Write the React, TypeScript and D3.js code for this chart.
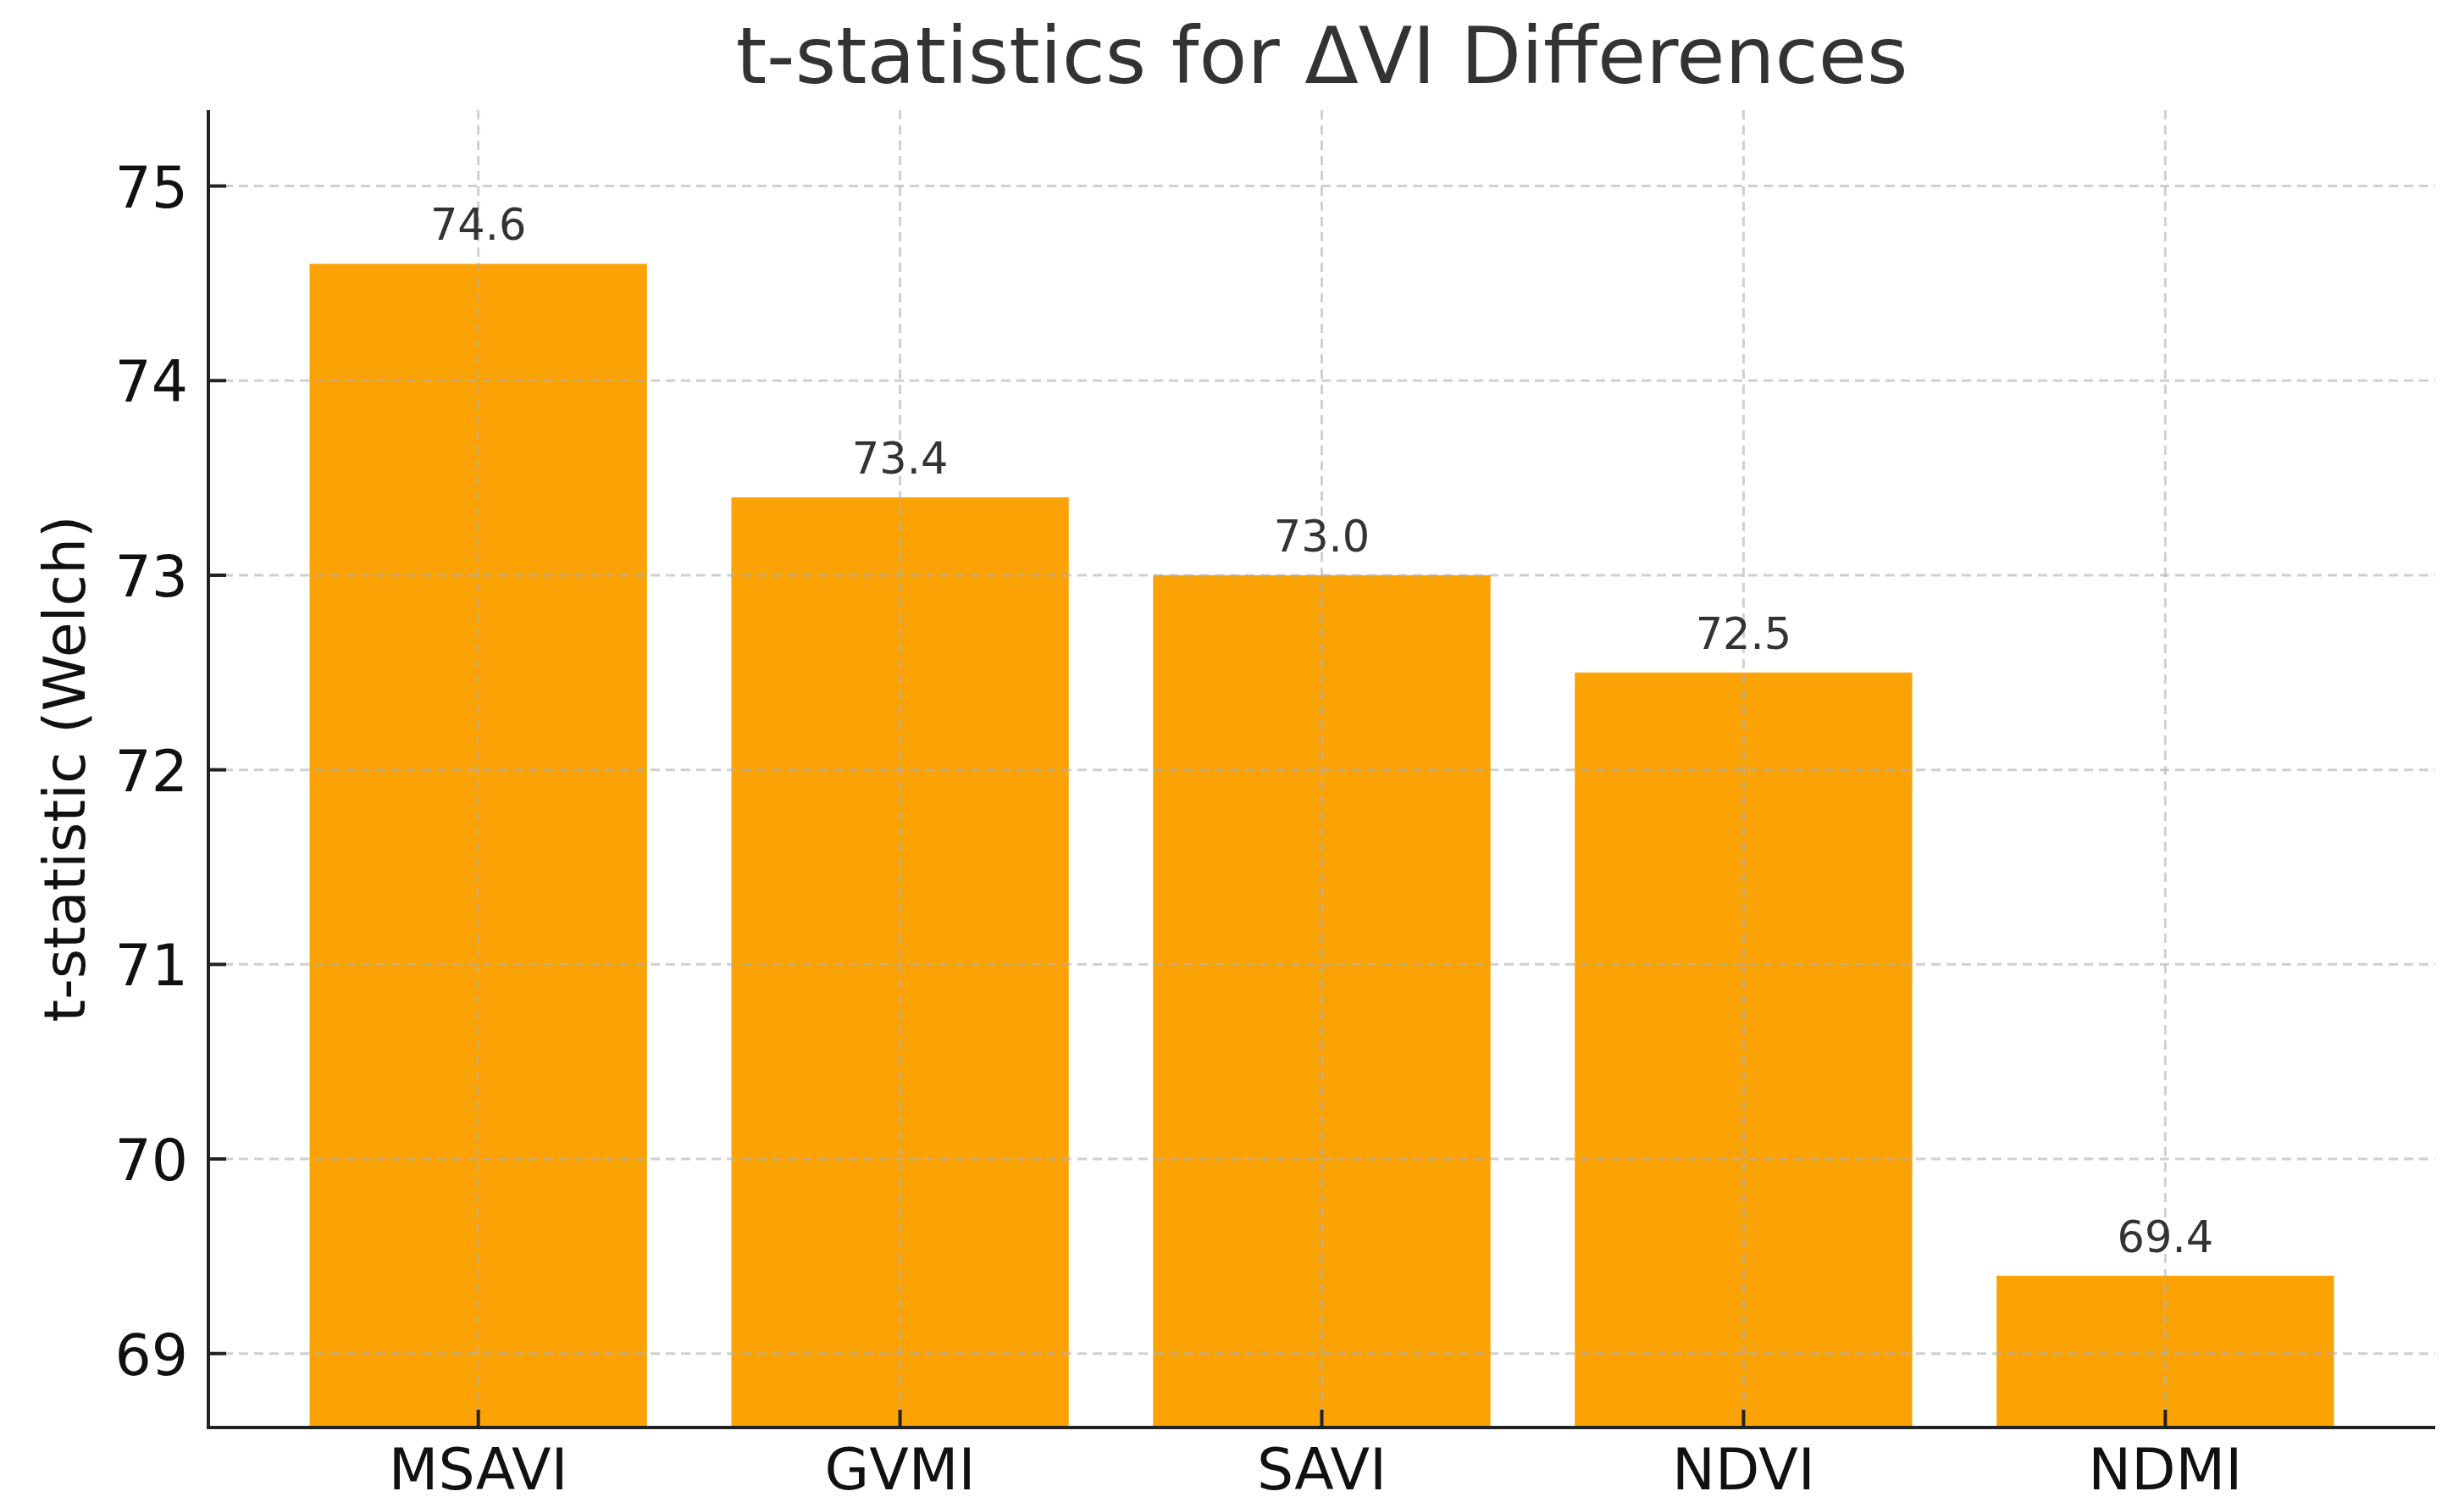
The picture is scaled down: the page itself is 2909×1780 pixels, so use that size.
import { useEffect, useRef } from "react"
import * as d3 from "d3"

const categories = ["MSAVI", "GVMI", "SAVI", "NDVI", "NDMI"]
const tValues = [74.6, 73.4, 73.0, 72.5, 69.4]
const yTicks = [69, 70, 71, 72, 73, 74, 75]
const yDomain = [68.62, 75.39]

const FONT = "'DejaVu Sans', Verdana, sans-serif"

export default function App() {

  const ref = useRef<SVGSVGElement | null>(null)

  useEffect(()=>{

    const svg = d3.select(ref.current)
    svg.selectAll("*").remove()

    const width = 2909
    const height = 1780
    const left = 246
    const right = 2875
    const top = 130
    const bottom = 1685

    svg.attr("width",width).attr("height",height)

    svg.append("rect")
      .attr("width",width)
      .attr("height",height)
      .attr("fill","#fff")

    // matplotlib-like positions: index axis with 5% margins
    const xi = d3.scaleLinear()
      .domain([-0.64, categories.length - 1 + 0.64])
      .range([left,right])

    const y = d3.scaleLinear()
      .domain(yDomain)
      .range([bottom,top])

    const barW = (xi(1) - xi(0)) * 0.8

    const data = categories.map((c,i)=>({label:c,value:tValues[i],i}))

    // bars
    svg.append("g")
      .selectAll("rect")
      .data(data)
      .enter()
      .append("rect")
      .attr("x",d=>xi(d.i) - barW/2)
      .attr("y",d=>y(d.value))
      .attr("width",barW)
      .attr("height",d=>bottom - y(d.value))
      .attr("fill","#fba204")

    // grid on top of bars
    const grid = svg.append("g")
      .attr("stroke","#b0b0b0")
      .attr("stroke-opacity",0.6)
      .attr("stroke-width",3)
      .attr("stroke-dasharray","11 7")

    grid.selectAll("line.h")
      .data(yTicks)
      .enter()
      .append("line")
      .attr("x1",left)
      .attr("x2",right)
      .attr("y1",d=>y(d))
      .attr("y2",d=>y(d))

    grid.selectAll("line.v")
      .data(data)
      .enter()
      .append("line")
      .attr("x1",d=>xi(d.i))
      .attr("x2",d=>xi(d.i))
      .attr("y1",top)
      .attr("y2",bottom)

    // value labels
    svg.append("g")
      .selectAll("text")
      .data(data)
      .enter()
      .append("text")
      .attr("x",d=>xi(d.i))
      .attr("y",d=>y(d.value) - 28)
      .attr("text-anchor","middle")
      .attr("font-family",FONT)
      .attr("font-size",51)
      .attr("fill","#333")
      .text(d=>d.value.toFixed(1))

    // ticks (inward)
    const ticks = svg.append("g")
      .attr("stroke","#222")
      .attr("stroke-width",4)

    ticks.selectAll("line.y")
      .data(yTicks)
      .enter()
      .append("line")
      .attr("x1",left)
      .attr("x2",left + 21)
      .attr("y1",d=>y(d))
      .attr("y2",d=>y(d))

    ticks.selectAll("line.x")
      .data(data)
      .enter()
      .append("line")
      .attr("x1",d=>xi(d.i))
      .attr("x2",d=>xi(d.i))
      .attr("y1",bottom)
      .attr("y2",bottom - 21)

    // spines
    svg.append("line")
      .attr("x1",left).attr("x2",left)
      .attr("y1",top).attr("y2",bottom + 2)
      .attr("stroke","#222").attr("stroke-width",4)
    svg.append("line")
      .attr("x1",left - 2).attr("x2",right)
      .attr("y1",bottom).attr("y2",bottom)
      .attr("stroke","#222").attr("stroke-width",4)

    // tick labels
    svg.append("g")
      .selectAll("text")
      .data(yTicks)
      .enter()
      .append("text")
      .attr("x",left - 24)
      .attr("y",d=>y(d) + 25)
      .attr("text-anchor","end")
      .attr("font-family",FONT)
      .attr("font-size",68)
      .attr("fill","#111")
      .text(d=>String(d))

    svg.append("g")
      .selectAll("text")
      .data(data)
      .enter()
      .append("text")
      .attr("x",d=>xi(d.i))
      .attr("y",1758)
      .attr("text-anchor","middle")
      .attr("font-family",FONT)
      .attr("font-size",68)
      .attr("fill","#111")
      .text(d=>d.label)

    // axis title
    svg.append("text")
      .attr("transform",`translate(100,${(top + bottom)/2}) rotate(-90)`)
      .attr("text-anchor","middle")
      .attr("font-family",FONT)
      .attr("font-size",68)
      .attr("fill","#111")
      .text("t-statistic (Welch)")

    // chart title
    svg.append("text")
      .attr("x",(left + right)/2)
      .attr("y",98)
      .attr("text-anchor","middle")
      .attr("font-family",FONT)
      .attr("font-size",93)
      .attr("fill","#333")
      .text("t-statistics for ΔVI Differences")

  },[])

  return (
    <div style={{position:"absolute",left:0,top:0}}>
      <svg ref={ref} style={{display:"block"}} />
    </div>
  )
}
